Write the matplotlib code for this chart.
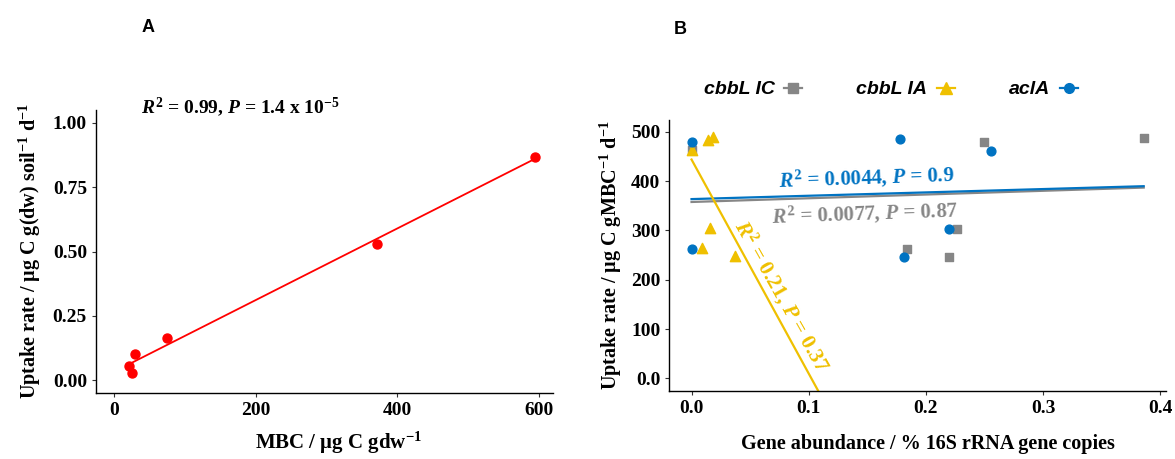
import numpy as np
import matplotlib
matplotlib.use("Agg")
import matplotlib.pyplot as plt
from matplotlib.lines import Line2D

# painel A: MBC x taxa de absorcao
mbc = [20, 25, 29, 74, 371, 594]
uptake_a = [0.055, 0.029, 0.10, 0.165, 0.531, 0.868]

# painel B: abundancia genica x taxa de absorcao
cbbl_ic_x = [0.0, 0.184, 0.22, 0.227, 0.25, 0.386]
cbbl_ic_y = [463, 262, 247, 303, 480, 487]
cbbl_ia_x = [0.0, 0.009, 0.014, 0.016, 0.018, 0.037]
cbbl_ia_y = [463, 265, 483, 305, 490, 249]
acla_x = [0.0, 0.0, 0.178, 0.181, 0.22, 0.256]
acla_y = [480, 262, 486, 247, 302, 461]

cor_ic = "#868686"
cor_ia = "#EFC000"
cor_acla = "#0073C2"

plt.rcParams["mathtext.fontset"] = "custom"
plt.rcParams["mathtext.rm"] = "Liberation Serif:bold"
plt.rcParams["mathtext.it"] = "Liberation Serif:italic:bold"
plt.rcParams["mathtext.bf"] = "Liberation Serif:bold"
plt.rcParams["font.family"] = "Liberation Serif"
plt.rcParams["font.weight"] = "bold"
plt.rcParams["axes.labelweight"] = "bold"

fig = plt.figure(figsize=(11.75, 4.59), dpi=100)

# ---------- painel A ----------
ax1 = fig.add_axes([0.0817, 0.1438, 0.3889, 0.6165])
ax1.scatter(mbc, uptake_a, color="red", s=42, zorder=3)
coef = np.polyfit(mbc, uptake_a, 1)
xx = np.array([min(mbc), max(mbc)])
ax1.plot(xx, np.polyval(coef, xx), color="red", lw=1.3)
ax1.set_xlim(-26, 620)
ax1.set_ylim(-0.05, 1.05)
ax1.set_xticks([0, 200, 400, 600])
ax1.set_yticks([0, 0.25, 0.5, 0.75, 1.0])
ax1.set_yticklabels(["0.00", "0.25", "0.50", "0.75", "1.00"])
ax1.text(37, 1.06, r"$R^2$ = 0.99, $P$ = 1.4 x 10$^{-5}$", fontsize=14,
         ha="left", va="center")
ax1.set_xlabel(r"MBC / μg C gdw$^{-1}$", fontsize=15)
ax1.xaxis.set_label_coords(0.53, -0.13)
ax1.set_ylabel(r"Uptake rate / μg C g(dw) soil$^{-1}$ d$^{-1}$", fontsize=14.5,
               labelpad=7)
fig.text(0.126, 0.94, "A", family="Liberation Sans", fontweight="bold",
         fontsize=13, ha="center", va="center")

# ---------- painel B ----------
ax2 = fig.add_axes([0.5696, 0.1488, 0.4227, 0.5898])
ax2.scatter(cbbl_ic_x, cbbl_ic_y, marker="s", color=cor_ic, s=40, zorder=3)
ax2.scatter(cbbl_ia_x, cbbl_ia_y, marker="^", color=cor_ia, s=55, zorder=3)
ax2.scatter(acla_x, acla_y, marker="o", color=cor_acla, s=40, zorder=3)

x_all = np.array([0.0, max(cbbl_ic_x + cbbl_ia_x + acla_x)])
for xs, ys, cor in [(cbbl_ic_x, cbbl_ic_y, cor_ic),
                    (acla_x, acla_y, cor_acla),
                    (cbbl_ia_x, cbbl_ia_y, cor_ia)]:
    c = np.polyfit(xs, ys, 1)
    ax2.plot(x_all, np.polyval(c, x_all), color=cor, lw=1.6)

ax2.set_xlim(-0.019, 0.405)
ax2.set_ylim(-25, 524)
ax2.set_xticks([0, 0.1, 0.2, 0.3, 0.4])
ax2.set_xticklabels(["0.0", "0.1", "0.2", "0.3", "0.4"])
ax2.set_yticks([0, 100, 200, 300, 400, 500])
ax2.set_yticklabels(["0.0", "100", "200", "300", "400", "500"])

ax2.text(0.074, 407, r"$R^2$ = 0.0044, $P$ = 0.9", color=cor_acla, fontsize=15,
         ha="left", va="center", rotation=2)
ax2.text(0.068, 334, r"$R^2$ = 0.0077, $P$ = 0.87", color=cor_ic, fontsize=15,
         ha="left", va="center", rotation=2)
ax2.text(0.077, 167, r"$R^2$ = 0.21, $P$ = 0.37", color=cor_ia, fontsize=15.5,
         ha="center", va="center", rotation=-60.5, rotation_mode="anchor")

ax2.set_xlabel("Gene abundance / % 16S rRNA gene copies", fontsize=14.5)
ax2.xaxis.set_label_coords(0.52, -0.16)
ax2.set_ylabel(r"Uptake rate / μg C gMBC$^{-1}$ d$^{-1}$", fontsize=14.5,
               labelpad=5)
fig.text(0.579, 0.935, "B", family="Liberation Sans", fontweight="bold",
         fontsize=13, ha="center", va="center")

handles = [Line2D([], [], color=cor_ic, marker="s", markersize=7, lw=1.6),
           Line2D([], [], color=cor_ia, marker="^", markersize=8, lw=1.6),
           Line2D([], [], color=cor_acla, marker="o", markersize=7, lw=1.6)]
fig.legend(handles, ["cbbL IC", "cbbL IA", "aclA"], loc="center",
           bbox_to_anchor=(0.758, 0.805), ncol=3, frameon=False,
           markerfirst=False, handlelength=0.9, handletextpad=0.5,
           columnspacing=2.8,
           prop={"family": "Liberation Sans", "weight": "bold",
                 "style": "italic", "size": 14})

for ax in [ax1, ax2]:
    ax.spines["top"].set_visible(False)
    ax.spines["right"].set_visible(False)
    ax.spines["left"].set_linewidth(1.0)
    ax.spines["bottom"].set_linewidth(1.0)
    ax.tick_params(labelsize=14, length=3, width=0.8, color="#333333")
    for lab in ax.get_xticklabels() + ax.get_yticklabels():
        lab.set_fontweight("bold")

fig.savefig("out.png", dpi=100)
